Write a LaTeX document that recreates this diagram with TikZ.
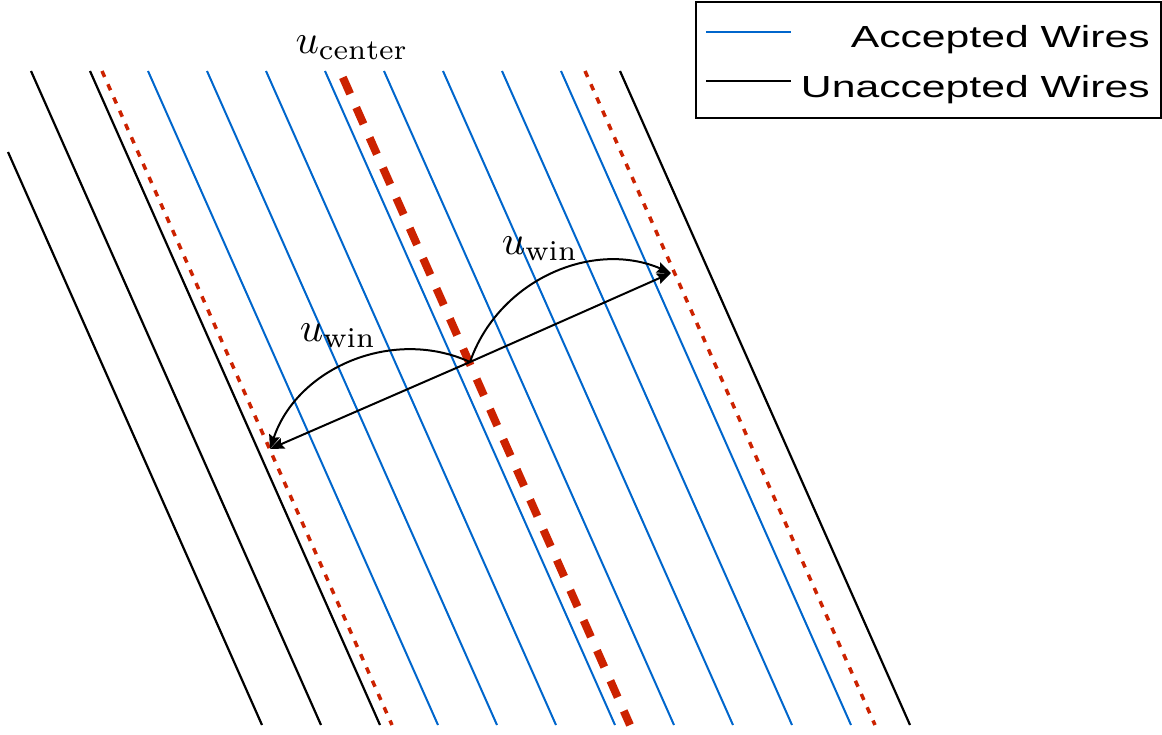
\documentclass[tikz,border=0pt]{standalone}
\usepackage{fontspec}
\newfontfamily\legfont{Liberation Sans}
\usetikzlibrary{arrows.meta}
\definecolor{wireblue}{RGB}{0,102,204}
\definecolor{wirered}{RGB}{204,34,0}
\newcommand{\biglabel}[1]{\scalebox{4.1}{$#1$}}
\begin{document}
\begin{tikzpicture}[x=1pt,y=-1pt,
  acc/.style={wireblue,line width=2pt},
  unacc/.style={black,line width=2.2pt},
  bound/.style={wirered,line width=3.5pt,dash pattern=on 6.5pt off 8pt},
  centre/.style={wirered,line width=8pt,dash pattern=on 18pt off 15pt,dash phase=26pt},
  arr/.style={black,line width=2pt,-{Stealth[length=14pt,width=11pt,inset=2pt]}},
  mlabel/.style={inner sep=0pt},
  ltext/.style={inner sep=0pt,anchor=base east,font=\legfont\fontsize{30.5}{34}\selectfont}]
\useasboundingbox (0,0) rectangle (1162,734);
% unaccepted wires
\coordinate (k0t) at (8,152);  \coordinate (k0b) at (262,725);
\draw[unacc] (k0t) -- (k0b);
\foreach \x [count=\i] in {31,90,620}{
  \coordinate (k\i t) at (\x,71); \coordinate (k\i b) at (\x+290,725);
  \draw[unacc] (k\i t) -- (k\i b);}
% accepted wires
\foreach \x [count=\i] in {148,207,266,325,384,443,502,561}{
  \coordinate (a\i t) at (\x,71); \coordinate (a\i b) at (\x+290,725);
  \draw[acc] (a\i t) -- (a\i b);}
% window boundaries
\coordinate (rlt) at (102,71); \coordinate (rlb) at (392,725);
\coordinate (rrt) at (585,71); \coordinate (rrb) at (875,725);
\draw[bound] (rlt) -- (rlb);
\draw[bound] (rrt) -- (rrb);
% centre wire
\coordinate (ct) at (340,71); \coordinate (cb) at (630,725);
\draw[centre] (ct) -- (cb);
% arrows
\coordinate (C) at (470,362);
\coordinate (L) at (270,449);
\coordinate (R) at (671,273);
\draw[arr] (C) -- (L);
\draw[arr] (C) -- (R);
\draw[arr] (C) to[bend right=48] (L);
\draw[arr] (C) to[bend left=47] (R);
% labels
\node[mlabel] (uc) at (352,48) {\biglabel{u_{\mathrm{center}}}};
\node[mlabel] (uw1) at (338,336) {\biglabel{u_{\mathrm{win}}}};
\node[mlabel] (uw2) at (540,249) {\biglabel{u_{\mathrm{win}}}};
% legend
\node[draw,line width=2pt,minimum width=465pt,minimum height=116pt,anchor=north west,inner sep=0pt] (leg) at (695,1) {};
\coordinate (lb1) at (706,32); \coordinate (lb2) at (791,32);
\coordinate (lk1) at (706,81); \coordinate (lk2) at (791,81);
\draw[acc] (lb1) -- (lb2);
\draw[unacc] (lk1) -- (lk2);
\node[ltext] (lacc) at (1150,47) {\scalebox{1.4}[1]{Accepted Wires}};
\node[ltext] (lun) at (1150,97) {\scalebox{1.4}[1]{Unaccepted Wires}};
\end{tikzpicture}
\end{document}
